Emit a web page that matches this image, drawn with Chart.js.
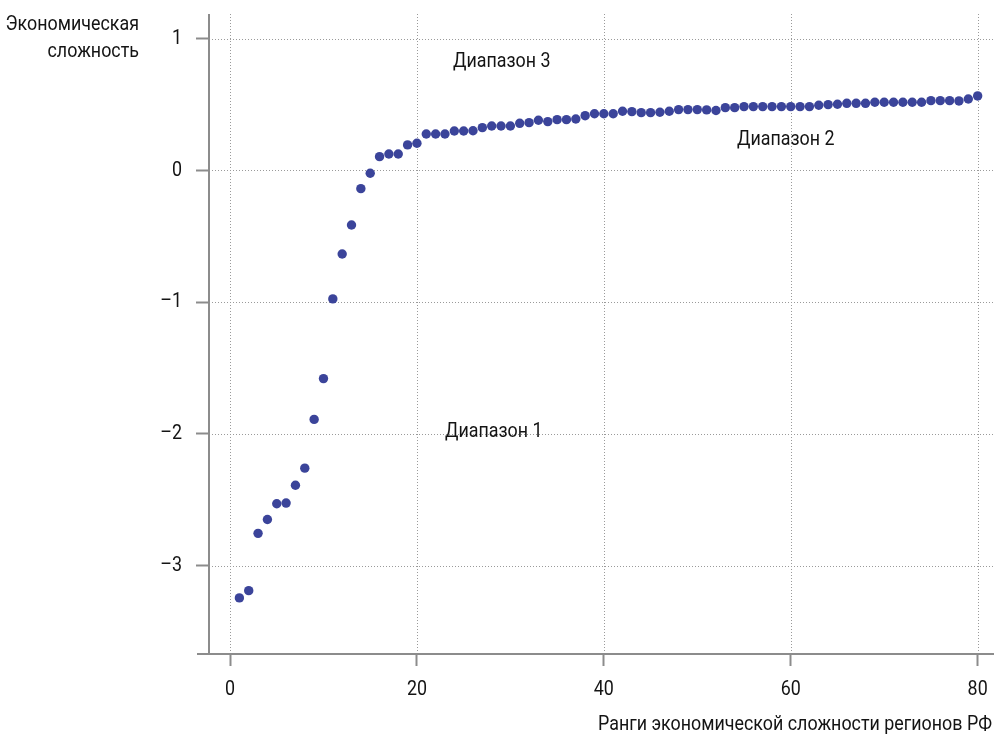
<!DOCTYPE html>
<html><head><meta charset="utf-8">
<script src="https://cdn.jsdelivr.net/npm/chart.js@4.4.1/dist/chart.umd.min.js"></script>
<style>html,body{margin:0;padding:0;background:#fff}#wrap{width:994px;height:738px;position:relative}</style>
</head><body><div id="wrap"><canvas id="c" width="994" height="738"></canvas></div>
<script>
const ranks = [1,2,3,4,5,6,7,8,9,10,11,12,13,14,15,16,17,18,19,20,21,22,23,24,25,26,27,28,29,30,31,32,33,34,35,36,37,38,39,40,41,42,43,44,45,46,47,48,49,50,51,52,53,54,55,56,57,58,59,60,61,62,63,64,65,66,67,68,69,70,71,72,73,74,75,76,77,78,79,80];
const complexity = [-3.245,-3.19,-2.755,-2.65,-2.53,-2.525,-2.39,-2.26,-1.89,-1.58,
  -0.975,-0.634,-0.414,-0.138,-0.021,0.105,0.125,0.125,0.194,0.207,
  0.277,0.277,0.277,0.30,0.30,0.302,0.325,0.338,0.338,0.338,
  0.358,0.363,0.381,0.371,0.386,0.386,0.391,0.416,0.431,0.431,
  0.431,0.45,0.447,0.439,0.439,0.442,0.45,0.462,0.462,0.462,
  0.46,0.455,0.477,0.477,0.485,0.485,0.485,0.485,0.485,0.485,
  0.485,0.485,0.495,0.50,0.503,0.51,0.51,0.51,0.518,0.518,
  0.518,0.518,0.518,0.518,0.53,0.53,0.53,0.528,0.543,0.566];
const xTickValues = [0,20,40,60,80];
const xTickLabels = ['0','20','40','60','80'];
const yTickValues = [-3,-2,-1,0,1];
const yTickLabels = ['–3','–2','–1','0','1'];
const rangeLabels = ['Диапазон 3','Диапазон 2','Диапазон 1'];
const rangeLabelX = [23.86,54.25,23.0];
const rangeLabelY = [0.826,0.232,-1.983];
const yTitleLines = ['Экономическая','сложность'];
const xTitle = 'Ранги экономической сложности регионов РФ';

const FAMILY = "Roboto, 'Liberation Sans', sans-serif";
const TEXT = '#141414';
const AXIS = '#8c8c8c';
const LABEL_SIZE = 21;
const TICK_SIZE = 21;
let SX = 0.85;

function drawText(ctx, text, x, y, align, size) {
  ctx.save();
  ctx.font = size + 'px ' + FAMILY;
  ctx.textAlign = 'left';
  ctx.textBaseline = 'middle';
  ctx.fillStyle = TEXT;
  const w = ctx.measureText(text).width * SX;
  const left = align === 'right' ? x - w : (align === 'center' ? x - w / 2 : x);
  ctx.translate(left, y);
  ctx.scale(SX, 1);
  ctx.fillText(text, 0, 0);
  ctx.restore();
}

const deco = {
  id: 'deco',
  beforeDatasetsDraw(chart) {
    const {ctx, chartArea: a, scales: {x, y}} = chart;
    ctx.save();
    ctx.strokeStyle = '#9a9a9a';
    ctx.lineWidth = 1;
    ctx.setLineDash([1, 2]);
    xTickValues.forEach(v => {
      const px = Math.round(x.getPixelForValue(v)) + 0.5;
      ctx.beginPath(); ctx.moveTo(px, a.top); ctx.lineTo(px, a.bottom); ctx.stroke();
    });
    yTickValues.forEach(v => {
      const py = Math.round(y.getPixelForValue(v)) + 0.5;
      ctx.beginPath(); ctx.moveTo(a.left, py); ctx.lineTo(a.right, py); ctx.stroke();
    });
    ctx.setLineDash([]);
    ctx.strokeStyle = AXIS;
    ctx.lineWidth = 2;
    ctx.beginPath(); ctx.moveTo(a.left, a.top); ctx.lineTo(a.left, a.bottom); ctx.stroke();
    ctx.beginPath(); ctx.moveTo(a.left - 12, a.bottom); ctx.lineTo(a.right, a.bottom); ctx.stroke();
    ctx.restore();
  },
  afterDraw(chart) {
    const {ctx, scales: {x, y}} = chart;
    ctx.save();
    ctx.font = LABEL_SIZE + 'px ' + FAMILY;
    SX = 394 / ctx.measureText(xTitle).width;
    ctx.restore();
    xTickValues.forEach((v, i) => drawText(ctx, xTickLabels[i], x.getPixelForValue(v), 689.5, 'center', TICK_SIZE));
    yTickValues.forEach((v, i) => drawText(ctx, yTickLabels[i], 182, y.getPixelForValue(v), 'right', TICK_SIZE));
    rangeLabels.forEach((t, i) => drawText(ctx, t, x.getPixelForValue(rangeLabelX[i]), y.getPixelForValue(rangeLabelY[i]), 'left', LABEL_SIZE));
    drawText(ctx, yTitleLines[0], 139, 25, 'right', LABEL_SIZE);
    drawText(ctx, yTitleLines[1], 139, 52, 'right', LABEL_SIZE);
    drawText(ctx, xTitle, 992, 725, 'right', LABEL_SIZE);
  }
};

new Chart(document.getElementById('c'), {
  type: 'scatter',
  data: {
    datasets: [{
      data: ranks.map((r, i) => ({x: r, y: complexity[i]})),
      backgroundColor: '#3b449a',
      borderWidth: 0,
      pointRadius: 4.7,
      pointHoverRadius: 4.7
    }]
  },
  options: {
    responsive: false,
    animation: false,
    devicePixelRatio: 1,
    layout: {autoPadding: false, padding: {left: 0, right: 0, top: 14, bottom: 0}},
    plugins: {legend: {display: false}, tooltip: {enabled: false}},
    scales: {
      x: {
        type: 'linear', min: -2.25, max: 81.75,
        afterBuildTicks: s => { s.ticks = xTickValues.map(v => ({value: v})); },
        afterFit: s => { s.height = 84; s.paddingLeft = 0; s.paddingRight = 0; },
        grid: {drawOnChartArea: false, drawTicks: true, tickLength: 12, tickColor: AXIS, tickWidth: 2},
        border: {display: false},
        ticks: {display: false}
      },
      y: {
        type: 'linear', min: -3.671, max: 1.188,
        afterBuildTicks: s => { s.ticks = yTickValues.map(v => ({value: v})); },
        afterFit: s => { s.width = 209; s.paddingTop = 0; s.paddingBottom = 0; },
        grid: {drawOnChartArea: false, drawTicks: true, tickLength: 13, tickColor: AXIS, tickWidth: 2},
        border: {display: false},
        ticks: {display: false}
      }
    }
  },
  plugins: [deco]
});
</script>
</body></html>
